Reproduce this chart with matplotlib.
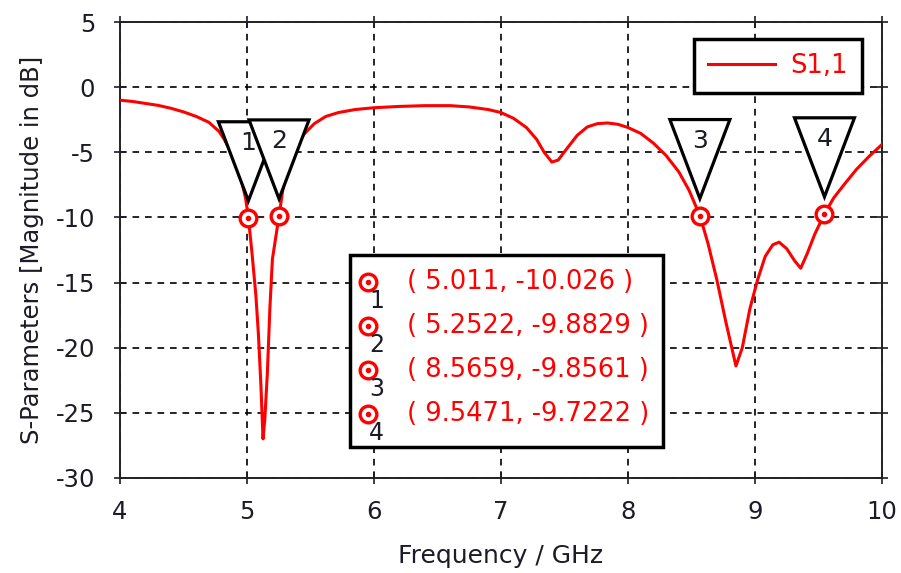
import matplotlib
matplotlib.use("Agg")
import matplotlib.pyplot as plt
import matplotlib.transforms as mtransforms
from matplotlib.patches import Polygon, Rectangle

# S1,1 magnitude (dB) versus frequency (GHz)
freq_ghz = [4.00, 4.10, 4.20, 4.30, 4.40, 4.50, 4.60, 4.70, 4.78, 4.82, 4.87,
            4.92, 4.96, 4.99, 5.011, 5.04, 5.07, 5.09, 5.11, 5.126, 5.14, 5.16,
            5.18, 5.20, 5.2522, 5.28, 5.32, 5.38, 5.45, 5.53, 5.62, 5.72, 5.85,
            6.00, 6.20, 6.40, 6.60, 6.75, 6.90, 7.00, 7.10, 7.20, 7.28, 7.34,
            7.40, 7.45, 7.52, 7.60, 7.68, 7.76, 7.84, 7.92, 8.00, 8.10, 8.20,
            8.30, 8.40, 8.48, 8.5659, 8.63, 8.70, 8.77, 8.85, 8.90, 8.96, 9.02,
            9.08, 9.14, 9.19, 9.25, 9.31, 9.36, 9.41, 9.47, 9.5471, 9.62, 9.70,
            9.80, 9.90, 10.00]
s11_db = [-1.00, -1.10, -1.25, -1.40, -1.62, -1.90, -2.25, -2.70, -3.40, -4.00,
          -4.90, -5.90, -7.30, -8.60, -10.026, -12.8, -16.0, -19.0, -23.0, -27.0,
          -25.5, -22.0, -17.0, -13.2, -9.8829, -8.0, -6.0, -4.6, -3.6, -2.8,
          -2.25, -1.95, -1.72, -1.58, -1.48, -1.42, -1.42, -1.52, -1.72, -1.95,
          -2.40, -3.10, -4.00, -5.00, -5.75, -5.60, -4.70, -3.70, -3.05, -2.80,
          -2.75, -2.85, -3.10, -3.55, -4.30, -5.25, -6.50, -7.90, -9.8561, -12.0,
          -14.8, -18.0, -21.4, -20.0, -17.0, -14.8, -13.0, -12.1, -11.9, -12.4,
          -13.3, -13.9, -12.8, -11.3, -9.7222, -8.50, -7.50, -6.30, -5.30, -4.40]

# Marker readouts
marker_ids = ["1", "2", "3", "4"]
marker_freq = [5.011, 5.2522, 8.5659, 9.5471]
marker_db = [-10.026, -9.8829, -9.8561, -9.7222]
marker_text = ["( 5.011, -10.026 )", "( 5.2522, -9.8829 )",
               "( 8.5659, -9.8561 )", "( 9.5471, -9.7222 )"]

x_ticks = [4, 5, 6, 7, 8, 9, 10]
y_ticks = [5, 0, -5, -10, -15, -20, -25, -30]

RED = "#ff0000"
INK = "#1c1c28"

plt.rcParams["font.family"] = ["DejaVu Sans"]
plt.rcParams["axes.unicode_minus"] = False

fig = plt.figure(figsize=(9.01, 5.73), dpi=100)
ax = fig.add_axes([0.1332, 0.1658, 0.8457, 0.7958])

ax.plot(freq_ghz, s11_db, color=RED, lw=2.2, zorder=3, label="S1,1")

ax.set_xlim(4, 10)
ax.set_ylim(-30, 5)
ax.set_xticks(x_ticks)
ax.set_yticks(y_ticks)
ax.grid(True, color="black", linestyle=(0, (4, 3.5)), lw=1.2)
ax.tick_params(direction="inout", length=8, width=1.2, top=True, right=True,
               labelsize=17.5, colors=INK)
ax.tick_params(axis="x", pad=12)
ax.tick_params(axis="y", pad=14)
for sp in ax.spines.values():
    sp.set_linewidth(1.4)
    sp.set_color("#222222")

ax.set_xlabel("Frequency / GHz", fontsize=18, color=INK, labelpad=14)
ax.set_ylabel("S-Parameters [Magnitude in dB]", fontsize=17.5, color=INK,
              labelpad=8)


def px_offset(x, y):
    # pixel offsets around a data point
    return (mtransforms.Affine2D().scale(fig.dpi / 100.0)
            + mtransforms.ScaledTranslation(x, y, ax.transData))


# marker circles on the curve and flag triangles above them
for mid, mx, my in zip(marker_ids, marker_freq, marker_db):
    ax.plot([mx], [my], marker="o", ms=12, mfc="white", mec=RED, mew=2.4,
            zorder=6, ls="none")
    ax.plot([mx], [my], marker="o", ms=3, mfc=RED, mec=RED, zorder=7, ls="none")
    tri = Polygon([(-30, 96), (30, 96), (0, 17)], closed=True,
                  facecolor="white", edgecolor="black", lw=2.3,
                  transform=px_offset(mx, my), zorder=4 + 0.01 * int(mid))
    ax.add_patch(tri)
    ax.annotate(mid, (mx, my), xytext=(0, 54), textcoords="offset points",
                ha="center", va="center", fontsize=18, color=INK,
                zorder=5 + 0.01 * int(mid))

# marker readout table
ax.add_patch(Rectangle((0.3018, 0.068), 0.4108, 0.421, transform=ax.transAxes,
                       facecolor="white", edgecolor="black", lw=2.5, zorder=8))
row_y = [0.430, 0.333, 0.237, 0.140]
for mid, txt, ry in zip(marker_ids, marker_text, row_y):
    ax.plot([0.3255], [ry], transform=ax.transAxes, marker="o", ms=12,
            mfc="white", mec=RED, mew=2.4, ls="none", zorder=9)
    ax.plot([0.3255], [ry], transform=ax.transAxes, marker="o", ms=3,
            mfc=RED, mec=RED, ls="none", zorder=10)
    ax.text(0.337, ry - 0.042, mid, transform=ax.transAxes, ha="center",
            va="center", fontsize=17, color=INK, zorder=11)
    ax.text(0.376, ry, txt, transform=ax.transAxes, ha="left", va="center",
            fontsize=18.5, color=RED, zorder=11)

leg = ax.legend(loc="upper right", bbox_to_anchor=(0.974, 0.963), fontsize=18.5,
                labelcolor=RED, fancybox=False, framealpha=1, edgecolor="black",
                handlelength=2.6, handletextpad=0.6, borderpad=0.55,
                borderaxespad=0)
leg.get_frame().set_linewidth(2.5)
leg.set_zorder(12)

fig.savefig("out.png", dpi=100)
